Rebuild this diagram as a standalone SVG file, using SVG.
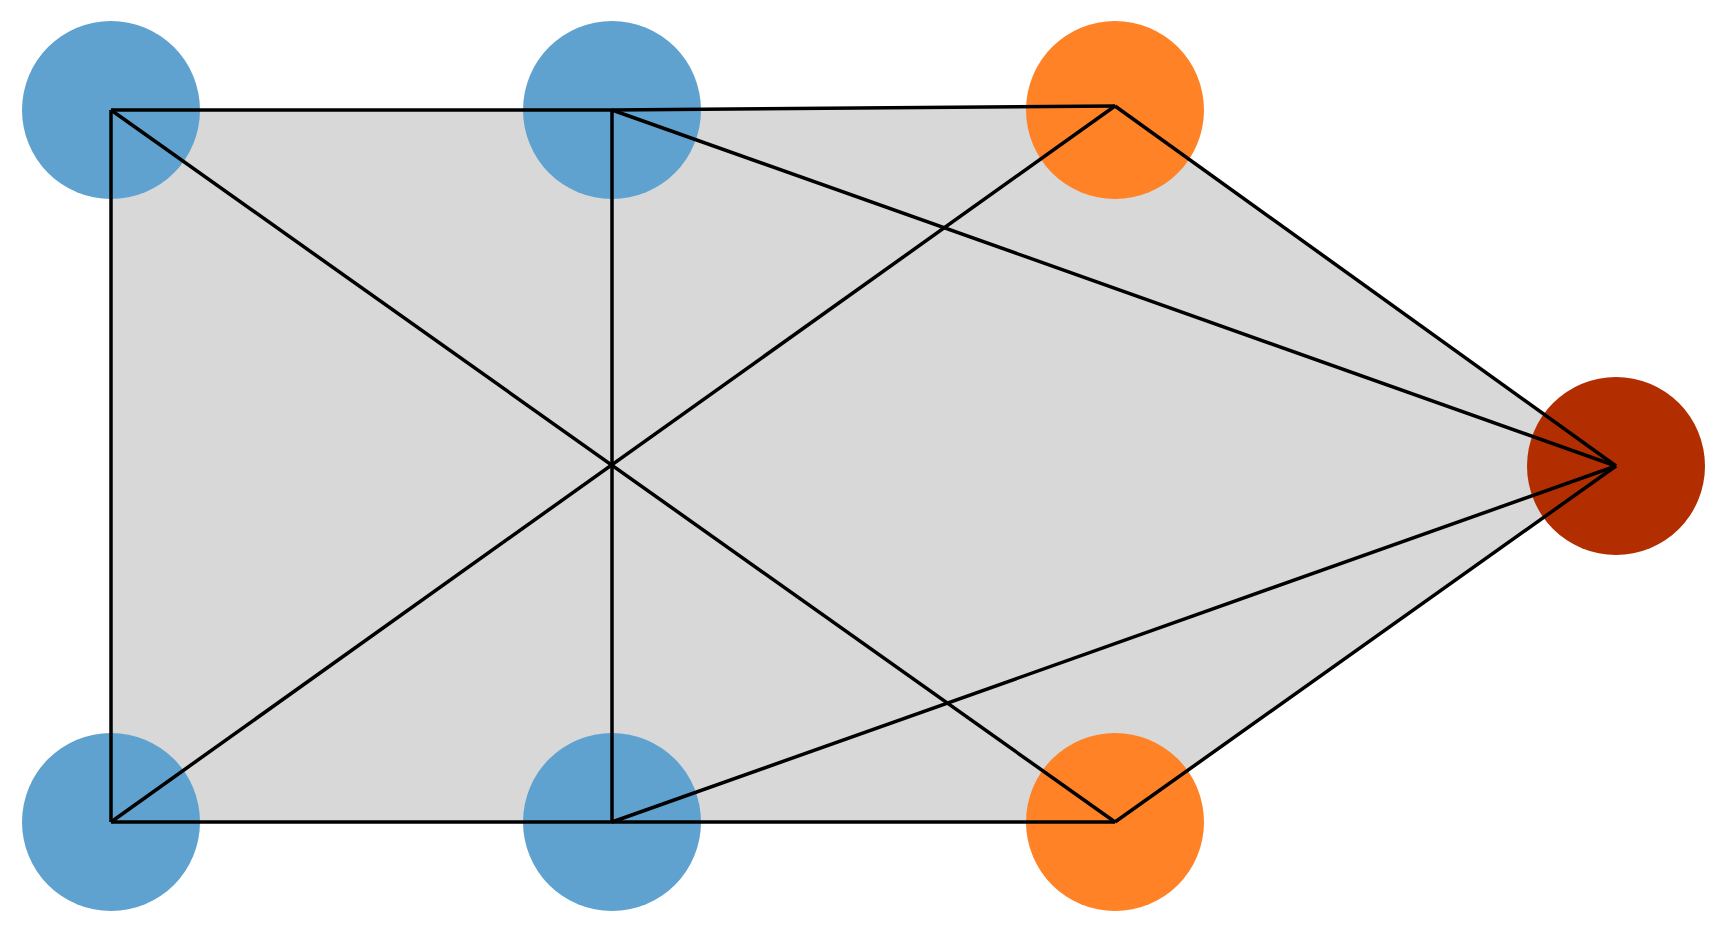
<svg xmlns="http://www.w3.org/2000/svg" width="1724" height="928" viewBox="0 0 1724 928">
<style>.e{stroke:#000;stroke-width:3.5;fill:none;stroke-linejoin:miter}</style>
<rect width="1724" height="928" fill="#fff"/>
<polygon points="111,110 612,110 1115,106 1616,466 1115,822 111,822" fill="#d8d8d8"/>
<g id="n1"><circle cx="111" cy="110" r="89" fill="#5fa2d0"/></g>
<g id="n2"><circle cx="612" cy="110" r="89" fill="#5fa2d0"/></g>
<g id="n3"><circle cx="1115" cy="110" r="89" fill="#ff8226"/></g>
<g id="n4"><circle cx="1616" cy="466" r="89" fill="#b22e00"/></g>
<g id="n5"><circle cx="111" cy="822" r="89" fill="#5fa2d0"/></g>
<g id="n6"><circle cx="612" cy="822" r="89" fill="#5fa2d0"/></g>
<g id="n7"><circle cx="1115" cy="822" r="89" fill="#ff8226"/></g>
<g id="edges" class="e">
<line x1="111" y1="110" x2="612" y2="110"/>
<line x1="612" y1="110" x2="1115" y2="106"/>
<line x1="111" y1="110" x2="111" y2="822"/>
<line x1="612" y1="110" x2="612" y2="822"/>
<line x1="111" y1="822" x2="1115" y2="822"/>
<line x1="111" y1="110" x2="1115" y2="822"/>
<line x1="111" y1="822" x2="1115" y2="106"/>
<line x1="612" y1="110" x2="1616" y2="466"/>
<line x1="612" y1="822" x2="1616" y2="466"/>
<line x1="1115" y1="106" x2="1616" y2="466"/>
<line x1="1115" y1="822" x2="1616" y2="466"/>
</g>
</svg>
